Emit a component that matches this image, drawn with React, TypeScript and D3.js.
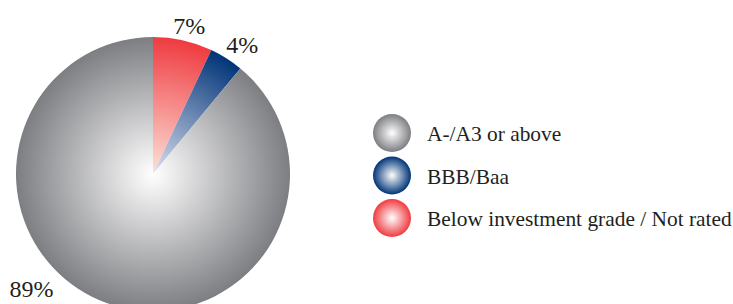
import { useEffect, useRef } from "react";
import * as d3 from "d3";

const categories = ["A-/A3 or above", "BBB/Baa", "Below investment grade / Not rated"];
const shares = [89, 4, 7];
const edgeColors = ["#7d7e82", "#003478", "#ef3b40"];
const centerColors = ["#ffffff", "#dde0f0", "#fde3da"];
const labelNudge = [0.47, 0.04, 0.02]; // radians added to slice mid-angle for % labels
const labelRadius = [167, 157, 153];

const FONT = "Liberation Serif";

const App = () => {
  const svgRef = useRef<SVGSVGElement>(null);

  useEffect(() => {
    const svg = d3.select(svgRef.current);
    svg.selectAll("*").remove();

    const cx = 153;
    const cy = 174;
    const r = 137;

    const defs = svg.append("defs");
    categories.forEach((_, i) => {
      const pg = defs.append("radialGradient").attr("id", `pie-g${i}`)
        .attr("gradientUnits", "userSpaceOnUse").attr("cx", 0).attr("cy", 0).attr("r", r);
      pg.append("stop").attr("offset", "0%").attr("stop-color", centerColors[i]);
      pg.append("stop").attr("offset", "100%").attr("stop-color", edgeColors[i]);

      const lg = defs.append("radialGradient").attr("id", `leg-g${i}`).attr("cx", "50%").attr("cy", "50%").attr("r", "50%");
      lg.append("stop").attr("offset", "0%").attr("stop-color", "#ffffff");
      lg.append("stop").attr("offset", "100%").attr("stop-color", edgeColors[i]);
    });

    // draw clockwise from 12 o'clock: last category first
    const order = d3.range(categories.length).reverse();
    const pie = d3.pie<number>().sort(null).value((i) => shares[i]);
    const arcs = pie(order);
    const arc = d3.arc<d3.PieArcDatum<number>>().innerRadius(0).outerRadius(r);

    const g = svg.append("g").attr("transform", `translate(${cx},${cy})`);
    g.selectAll("path").data(arcs).enter().append("path")
      .attr("d", arc)
      .attr("fill", (d) => `url(#pie-g${d.data})`);

    // percentage labels
    const labelPos = (d: d3.PieArcDatum<number>) => {
      const a = (d.startAngle + d.endAngle) / 2 + labelNudge[d.data];
      return [Math.sin(a) * labelRadius[d.data], -Math.cos(a) * labelRadius[d.data]];
    };
    g.selectAll("text.pct").data(arcs).enter().append("text")
      .attr("class", "pct")
      .attr("x", (d) => labelPos(d)[0])
      .attr("y", (d) => labelPos(d)[1])
      .attr("dy", "0.35em")
      .attr("text-anchor", "middle")
      .attr("font-family", FONT)
      .attr("font-size", 24)
      .attr("fill", "#231f20")
      .text((d) => `${shares[d.data]}%`);

    // legend
    const legendY = d3.scalePoint<number>().domain(d3.range(categories.length)).range([133, 218]);
    const lg = svg.append("g");
    const item = lg.selectAll("g").data(d3.range(categories.length)).enter().append("g")
      .attr("transform", (i) => `translate(392,${legendY(i)})`);
    item.append("circle").attr("r", 19).attr("fill", (i) => `url(#leg-g${i})`);
    item.append("text")
      .attr("x", 35).attr("y", 8)
      .attr("font-family", FONT)
      .attr("font-size", 21.4)
      .attr("fill", "#231f20")
      .text((i) => categories[i]);
  }, []);

  return (
    <svg ref={svgRef} width={733} height={304}
      style={{ position: "absolute", left: 0, top: 0, background: "#fff" }} />
  );
};

export default App;
